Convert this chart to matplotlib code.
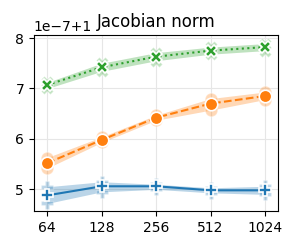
import matplotlib
matplotlib.use("Agg")
import matplotlib.pyplot as plt
import numpy as np

sizes = [64, 128, 256, 512, 1024]

# values in units of 1e-7, offset 1
blue_mean = [4.88, 5.06, 5.06, 4.98, 4.98]
blue_lo = [4.72, 4.95, 5.00, 4.93, 4.90]
blue_hi = [5.05, 5.15, 5.10, 5.03, 5.06]

orange_mean = [5.52, 5.98, 6.42, 6.70, 6.85]
orange_lo = [5.42, 5.93, 6.37, 6.57, 6.78]
orange_hi = [5.63, 6.04, 6.47, 6.80, 6.93]

green_mean = [7.07, 7.42, 7.63, 7.75, 7.82]
green_lo = [7.00, 7.34, 7.55, 7.68, 7.75]
green_hi = [7.12, 7.50, 7.71, 7.82, 7.89]

series = [
    (blue_mean, blue_lo, blue_hi, "#1f77b4", "P", "-"),
    (orange_mean, orange_lo, orange_hi, "#ff7f0e", "o", "--"),
    (green_mean, green_lo, green_hi, "#2ca02c", "X", ":"),
]

fig, ax = plt.subplots(figsize=(3, 2.5), dpi=100)
fig.subplots_adjust(left=0.113, right=0.927, bottom=0.156, top=0.86)

for mean, lo, hi, c, m, ls in series:
    mean = 1 + np.array(mean) * 1e-7
    lo = 1 + np.array(lo) * 1e-7
    hi = 1 + np.array(hi) * 1e-7
    ax.fill_between(sizes, lo, hi, color=c, alpha=0.3, lw=0)
    ax.plot(sizes, lo, ls="none", marker=m, ms=9, color=c, alpha=0.3, mec="white", mew=1)
    ax.plot(sizes, hi, ls="none", marker=m, ms=9, color=c, alpha=0.3, mec="white", mew=1)
    ax.plot(sizes, mean, ls=ls, color=c, lw=1.5, marker=m, ms=9, mec="white", mew=1.2)

ax.set_xscale("log", base=2)
ax.set_xticks(sizes)
ax.set_xticklabels([str(s) for s in sizes])
ax.minorticks_off()
ax.set_xlim(54, 1210)
ax.set_ylim(1 + 4.57e-7, 1 + 8.06e-7)
ax.set_yticks([1 + k * 1e-7 for k in [5, 6, 7, 8]])
ax.grid(True, color="#e6e6e6", lw=0.8)
ax.set_axisbelow(True)
ax.set_title("Jacobian norm", fontsize=12)

plt.savefig("out.png", dpi=100)
